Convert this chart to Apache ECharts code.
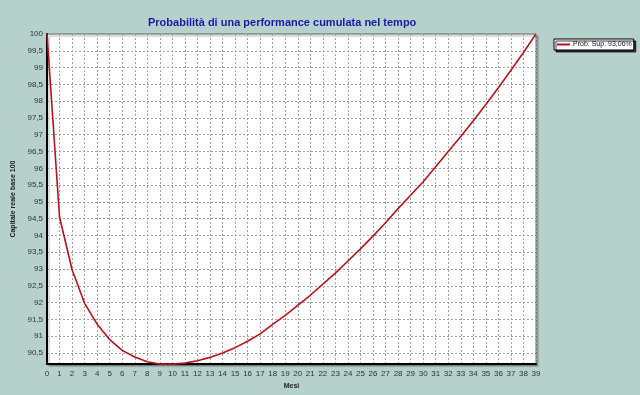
<!DOCTYPE html>
<html>
<head>
<meta charset="utf-8">
<script src="https://cdn.jsdelivr.net/npm/echarts@6/dist/echarts.min.js"></script>
<style>
html,body{margin:0;padding:0;background:#b6d0cc;}
#c{width:640px;height:395px;}
</style>
</head>
<body>
<div id="c"></div>
<script>
var months = [0,1,2,3,4,5,6,7,8,9,10,11,12,13,14,15,16,17,18,19,20,21,22,23,24,25,26,27,28,29,30,31,32,33,34,35,36,37,38,39];
var capital = [100,94.55,92.98,91.98,91.36,90.90,90.58,90.38,90.24,90.17,90.17,90.20,90.27,90.37,90.50,90.66,90.85,91.07,91.35,91.62,91.92,92.22,92.55,92.88,93.24,93.60,93.98,94.38,94.80,95.20,95.60,96.05,96.50,96.95,97.42,97.90,98.40,98.92,99.45,100];
var seriesName = 'Prob. Sup. 93,06%';
var titleText = 'Probabilità di una performance cumulata nel tempo';
var yAxisName = 'Capitale reale base 100';
var xAxisName = 'Mesi';

var FONT = '"Liberation Sans", Arial, sans-serif';
var chart = echarts.init(document.getElementById('c'), null, {renderer:'canvas'});
var pts = months.map(function(m,i){return [m, capital[i]];});
chart.setOption({
  backgroundColor: '#b6d0cc',
  animation: false,
  title: {
    text: titleText, left: 143, top: 12,
    textStyle: {color:'#1a1aaa', fontSize:11, fontWeight:'bold', fontFamily: FONT}
  },
  legend: {
    left: 554, top: 39, orient:'vertical',
    backgroundColor:'#ffffff', borderColor:'#000', borderWidth:1,
    padding:[2,2,2,3], itemWidth:13, itemHeight:2, itemGap:0,
    shadowColor:'rgba(0,0,0,0.75)', shadowOffsetX:2, shadowOffsetY:2, shadowBlur:0,
    textStyle:{fontSize:7, color:'#111', fontFamily: FONT, padding:[0,0,0,-2]},
    icon:'rect',
    data:[seriesName]
  },
  grid: {
    left:47, right:104, top:34, bottom:26, show:true,
    backgroundColor:'#ffffff', borderColor:'#666', borderWidth:1,
    shadowColor:'rgba(0,0,0,0.3)', shadowOffsetX:2, shadowOffsetY:2, shadowBlur:1
  },
  xAxis: {
    type:'value', min:0, max:39, interval:1,
    name:xAxisName, nameLocation:'middle', nameGap:15,
    nameTextStyle:{fontSize:7, fontWeight:'bold', color:'#222', fontFamily: FONT},
    axisLine:{show:true, onZero:false, lineStyle:{color:'#000', width:2}},
    axisTick:{show:false},
    axisLabel:{fontSize:8, color:'#333', margin:6, fontFamily: FONT},
    splitLine:{show:true, lineStyle:{color:'#a0a0a0', type:[2,2], width:1}}
  },
  yAxis: {
    type:'value', min:90.17, max:100, splitNumber:20, minInterval:0.5, maxInterval:0.5,
    name:yAxisName, nameLocation:'middle', nameGap:20, nameRotate:90,
    nameTextStyle:{fontSize:7, fontWeight:'bold', color:'#222', fontFamily: FONT},
    axisLine:{show:true, lineStyle:{color:'#000', width:2}},
    axisTick:{show:false},
    axisLabel:{fontSize:8, color:'#333', margin:4, fontFamily: FONT,
      formatter:function(v){
        if (Math.abs(v*2 - Math.round(v*2)) > 1e-6) return '';
        return String(v).replace('.', ',');
      }},
    splitLine:{show:true, lineStyle:{color:'#a0a0a0', type:[2,2], width:1}}
  },
  series: [{
    name: seriesName, type:'line', data: pts, showSymbol:false, symbol:'none',
    smooth:false, lineStyle:{color:'#b0141c', width:1.6}, itemStyle:{color:'#b0141c'}
  }]
});
</script>
</body>
</html>
